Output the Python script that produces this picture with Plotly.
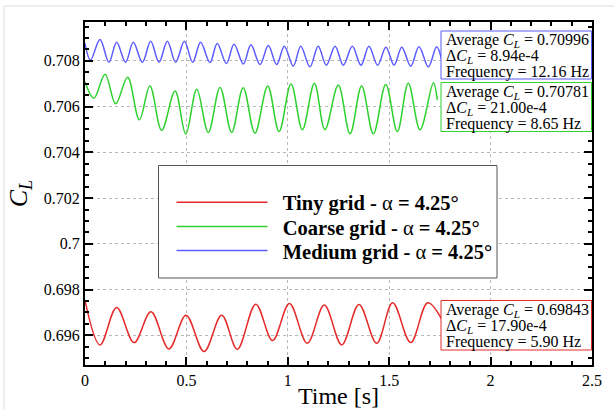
import plotly.graph_objects as go

# ---------------- data (extrema) ----------------
t_medium = [0.0, 0.027, 0.074, 0.118, 0.156, 0.200, 0.238, 0.283, 0.324, 0.365, 0.406, 0.447,
            0.490, 0.531, 0.570, 0.616, 0.652, 0.697, 0.735, 0.781, 0.818, 0.863, 0.904,
            0.945, 0.983, 1.027, 1.064, 1.109, 1.150, 1.190, 1.233, 1.274, 1.318, 1.361,
            1.400, 1.443, 1.484, 1.524, 1.562, 1.606, 1.647, 1.693, 1.734, 1.759]
cl_medium = [0.70876, 0.70803, 0.70894, 0.70794, 0.70881, 0.70794, 0.70881, 0.70794, 0.70886,
             0.70794, 0.70886, 0.70794, 0.70886, 0.70794, 0.70881, 0.70793, 0.70876, 0.70789,
             0.70873, 0.70786, 0.70870, 0.70784, 0.70867, 0.70784, 0.70864, 0.70777, 0.70864,
             0.70774, 0.70864, 0.70781, 0.70864, 0.70781, 0.70864, 0.70781, 0.70864, 0.70781,
             0.70860, 0.70781, 0.70860, 0.70777, 0.70862, 0.70774, 0.70862, 0.70803]

t_coarse = [0.0, 0.044, 0.099, 0.151, 0.210, 0.268, 0.320, 0.378, 0.444, 0.497, 0.551, 0.608,
            0.666, 0.723, 0.780, 0.838, 0.901, 0.957, 1.016, 1.072, 1.131, 1.183, 1.249,
            1.307, 1.364, 1.422, 1.483, 1.540, 1.594, 1.652, 1.718, 1.737]
cl_coarse = [0.70709, 0.70637, 0.70742, 0.70612, 0.70728, 0.70542, 0.70690, 0.70496, 0.70668,
             0.70480, 0.70676, 0.70487, 0.70684, 0.70487, 0.70683, 0.70484, 0.70690, 0.70491,
             0.70699, 0.70499, 0.70702, 0.70499, 0.70694, 0.70481, 0.70690, 0.70481, 0.70697,
             0.70491, 0.70702, 0.70499, 0.70704, 0.70629]

t_tiny = [0.0, 0.074, 0.156, 0.242, 0.325, 0.414, 0.498, 0.587, 0.674, 0.751, 0.842, 0.925,
          1.008, 1.096, 1.180, 1.266, 1.351, 1.438, 1.517, 1.606, 1.690, 1.770]
cl_tiny = [0.69753, 0.69558, 0.69722, 0.69568, 0.69703, 0.69540, 0.69688, 0.69529, 0.69688,
           0.69539, 0.69736, 0.69577, 0.69739, 0.69565, 0.69732, 0.69558, 0.69735, 0.69565,
           0.69742, 0.69568, 0.69742, 0.69652]

series_names = ["<b>Tiny grid - </b>α<b> = 4.25°</b>",
                "<b>Coarse grid - </b>α<b> = 4.25°</b>",
                "<b>Medium grid - </b>α<b> = 4.25°</b>"]
series_colors = ["#e52a2a", "#2fd12f", "#5b5bff"]

box_texts = {
    "medium": ["Average <i>C</i><sub><i>L</i></sub> = 0.70996",
               "Δ<i>C</i><sub><i>L</i></sub> = 8.94e-4",
               "Frequency = 12.16 Hz"],
    "coarse": ["Average <i>C</i><sub><i>L</i></sub> = 0.70781",
               "Δ<i>C</i><sub><i>L</i></sub> = 21.00e-4",
               "Frequency = 8.65 Hz"],
    "tiny": ["Average <i>C</i><sub><i>L</i></sub> = 0.69843",
             "Δ<i>C</i><sub><i>L</i></sub> = 17.90e-4",
             "Frequency = 5.90 Hz"],
}

x_range = [0, 2.5]
y_range = [0.6947, 0.7097]

# ---------------- figure ----------------
W, H = 614, 409
ML, MR, MT, MB = 85, 22, 22, 44
PW, PH = W - ML - MR, H - MT - MB


def px(xp):
    return (xp - ML) / PW


def py(yp):
    return (H - MB - yp) / PH


FONT = "Liberation Serif"
legend_ids = ["legend", "legend2", "legend3"]
legend_rows = [202.5, 226.7, 250.7]

fig = go.Figure()
for t, v, name, col, lg in [(t_tiny, cl_tiny, series_names[0], series_colors[0], legend_ids[0]),
                            (t_coarse, cl_coarse, series_names[1], series_colors[1], legend_ids[1]),
                            (t_medium, cl_medium, series_names[2], series_colors[2], legend_ids[2])]:
    fig.add_trace(go.Scatter(x=t, y=v, mode="lines", name="&nbsp;&nbsp;" + name, legend=lg,
                             line=dict(color=col, width=1.5, shape="spline", smoothing=1)))

axis_common = dict(
    showline=True, linecolor="black", linewidth=2, mirror="allticks",
    ticks="inside", ticklen=8, tickwidth=1.5, tickcolor="black",
    showgrid=True, gridcolor="#b8b8b8", gridwidth=1, griddash="dot",
    zeroline=False,
    tickfont=dict(family=FONT, size=16, color="black"),
)

fig.update_xaxes(range=x_range, dtick=0.5, tick0=0,
                 minor=dict(ticks="inside", ticklen=4, dtick=0.1, tickcolor="black", showgrid=False),
                 title=dict(text="Time [s]", font=dict(family=FONT, size=24, color="black"), standoff=2),
                 **axis_common)
fig.update_yaxes(range=y_range, dtick=0.002, tick0=0.696,
                 minor=dict(ticks="inside", ticklen=4, dtick=0.0005, tickcolor="black", showgrid=False),
                 title=dict(text="<i>C</i><sub><i>L</i></sub>", font=dict(family=FONT, size=26, color="black"), standoff=9),
                 **axis_common)

shapes = []
# outer light frame
shapes.append(dict(type="rect", xref="paper", yref="paper",
                   x0=px(4), x1=px(640), y0=py(430), y1=py(6),
                   line=dict(color="#dddddd", width=1), fillcolor="rgba(0,0,0,0)", layer="below"))
# legend frame
shapes.append(dict(type="rect", xref="paper", yref="paper",
                   x0=px(158.5), x1=px(497), y0=py(278), y1=py(165.5),
                   line=dict(color="#555555", width=1), fillcolor="white", layer="above"))

annotations = []
boxes = [("medium", series_colors[2], 31, 79, [40, 56, 72]),
         ("coarse", series_colors[1], 82.5, 131.5, [92, 108, 124]),
         ("tiny", series_colors[0], 300.5, 350, [310, 326, 342])]
for key, col, y0, y1, lines in boxes:
    shapes.append(dict(type="rect", xref="paper", yref="paper",
                       x0=px(441), x1=px(591.5), y0=py(y1), y1=py(y0),
                       line=dict(color=col, width=1), fillcolor="white", layer="above"))
    for txt, yl in zip(box_texts[key], lines):
        annotations.append(dict(text=txt, xref="paper", yref="paper", x=px(443.5), y=py(yl),
                                xanchor="left", yanchor="middle", showarrow=False,
                                font=dict(family=FONT, size=16, color="black")))

legend_style = dict(xanchor="left", yanchor="middle", bgcolor="rgba(0,0,0,0)", borderwidth=0,
                    itemwidth=91, font=dict(family=FONT, size=20.5, color="black"))
fig.update_layout(
    width=W, height=H,
    margin=dict(l=ML, r=MR, t=MT, b=MB, autoexpand=False),
    paper_bgcolor="white", plot_bgcolor="white",
    shapes=shapes, annotations=annotations,
    showlegend=True,
    legend=dict(x=px(171.5), y=py(legend_rows[0]), **legend_style),
    legend2=dict(x=px(171.5), y=py(legend_rows[1]), **legend_style),
    legend3=dict(x=px(171.5), y=py(legend_rows[2]), **legend_style),
)

fig.write_html("out.html")
